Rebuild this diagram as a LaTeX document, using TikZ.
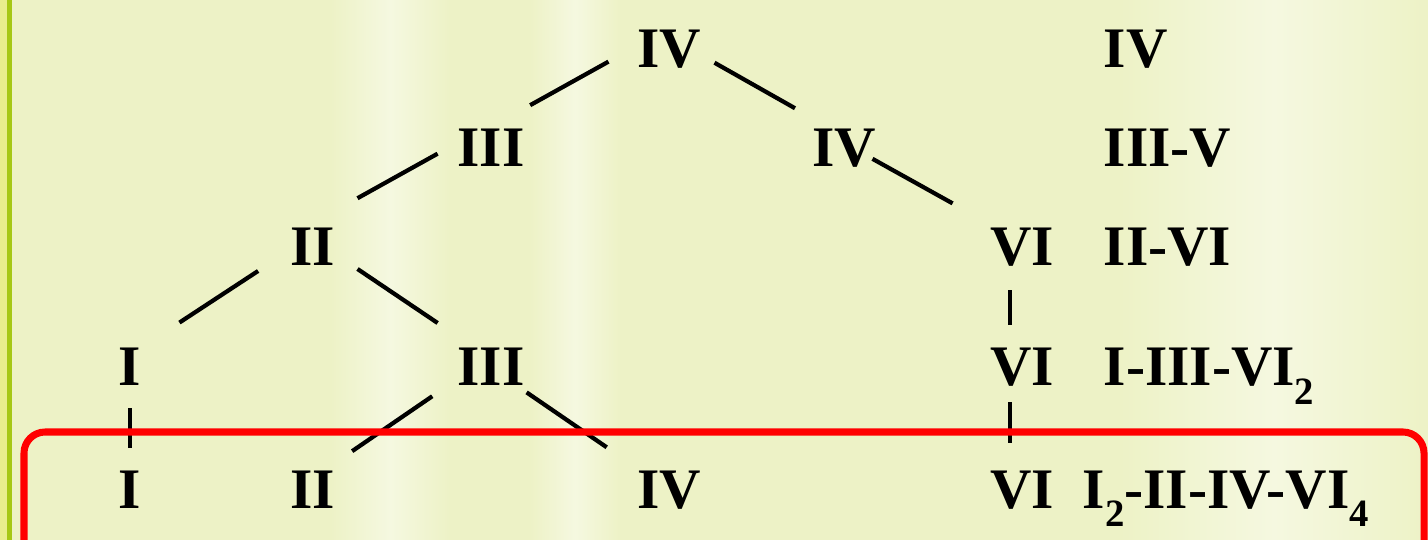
\documentclass[tikz,border=0pt]{standalone}
\usepackage{fontspec}
\setmainfont{Liberation Serif}
\usepackage{tikz}
\usetikzlibrary{calc}
\usepackage{xcolor}
\definecolor{paper}{HTML}{EDF2C6}
\definecolor{streak}{HTML}{F5F8E0}
\definecolor{barlight}{HTML}{E8EE8E}
\definecolor{bargreen}{HTML}{A6C816}
\definecolor{frame}{HTML}{FF0000}
\newcommand{\lowidx}[1]{\raisebox{-0.32em}{\fontsize{11pt}{11pt}\selectfont #1}}

\begin{document}
\begin{tikzpicture}[x=0.01cm, y=-0.01cm,
    every node/.style={font=\fontsize{16.3pt}{18pt}\selectfont\bfseries, inner sep=0pt, text height=0.38cm, text depth=0pt},
    num/.style={anchor=base},
    tag/.style={anchor=base west},
    link/.style={line width=1.2pt, black}]
    \useasboundingbox (0,0) rectangle (1428,540);
    \clip (0,0) rectangle (1428,540);
    % background
    \fill[paper] (0,0) rectangle (1428,540);
    \shade[left color=paper, right color=paper, middle color=streak] (330,0) rectangle (450,540);
    \shade[left color=paper, right color=paper, middle color=streak] (530,0) rectangle (620,540);
    \shade[left color=paper, right color=paper, middle color=streak] (1120,0) rectangle (1428,540);
    \fill[barlight] (0,0) rectangle (7,540);
    \fill[bargreen] (7,0) rectangle (12,540);

    % tree
    \node[num] (iv1) at (669,68) {IV};
    \node[num] (iii2) at (491,167) {III};
    \node[num] (iv2) at (844,167) {IV};
    \node[num] (ii3) at (313,266) {II};
    \node[num] (vi3) at (1022,266) {VI};
    \node[num] (i4) at (130,386) {I};
    \node[num] (iii4) at (491,386) {III};
    \node[num] (vi4) at (1022,386) {VI};
    \node[num] (i5) at (130,508) {I};
    \node[num] (ii5) at (313,508) {II};
    \node[num] (iv5) at (669,508) {IV};
    \node[num] (vi5) at (1022,508) {VI};

    % row labels
    \node[tag] (r1) at (1103,68) {IV};
    \node[tag] (r2) at (1103,167) {III-V};
    \node[tag] (r3) at (1103,266) {II-VI};
    \node[tag] (r4) at (1103,386) {I-III-VI\lowidx{2}};
    \node[tag] (r5) at (1082,508) {I\lowidx{2}-II-IV-VI\lowidx{4}};

    \draw[link] ($(iv1)!.34!(iii2)+(0,-21)$) -- ($(iv1)!.78!(iii2)+(0,-21)$);
    \draw[link] ($(iv1)!.26!(iv2)+(0,-12)$) -- ($(iv1)!.72!(iv2)+(0,-12)$);
    \draw[link] ($(iii2)!.30!(ii3)+(0,-24)$) -- ($(iii2)!.75!(ii3)+(0,-24)$);
    \draw[link] ($(iv2)!.16!(vi3)+(0,-5)$) -- ($(iv2)!.61!(vi3)+(0,-5)$);
    \draw[link] ($(ii3)!.30!(i4)+(0,-12)$) -- ($(ii3)!.73!(i4)+(0,-12)$);
    \draw[link] ($(ii3)!.25!(iii4)+(0,-8)$) -- ($(ii3)!.70!(iii4)+(0,-8)$);
    \draw[link] ($(vi3)!.36!(vi4)+(-12,0)$) -- ($(vi3)!.65!(vi4)+(-12,0)$);
    \draw[link] ($(i4)!.34!(i5)$) -- ($(i4)!.66!(i5)$);
    \draw[link] ($(iii4)!.33!(ii5)+(0,-11)$) -- ($(iii4)!.78!(ii5)+(0,-11)$);
    \draw[link] ($(iii4)!.20!(iv5)+(0,1)$) -- ($(iii4)!.65!(iv5)+(0,1)$);
    \draw[link] ($(vi4)!.29!(vi5)+(-12,0)$) -- ($(vi4)!.62!(vi5)+(-12,0)$);

    % highlight
    \draw[frame, line width=2pt, rounded corners=6pt] (24,432) rectangle (1424,600);
  \end{tikzpicture}
\end{document}
